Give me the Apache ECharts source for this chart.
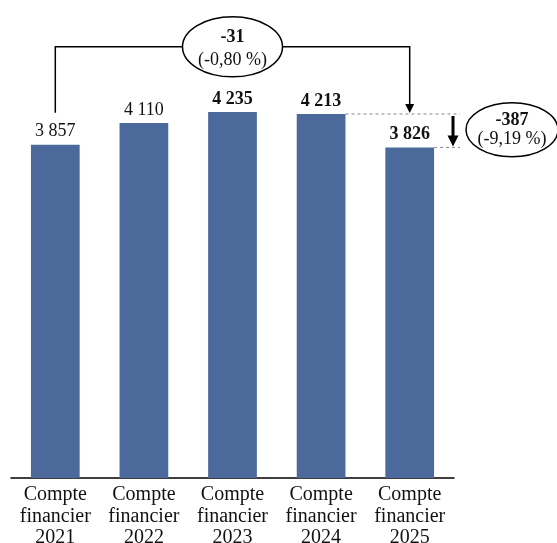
<!DOCTYPE html>
<html><head><meta charset="utf-8">
<script src="https://cdn.jsdelivr.net/npm/echarts@6/dist/echarts.min.js"></script>
<style>html,body{margin:0;padding:0;background:#fff}#c{width:557px;height:543px}</style>
</head><body><div id="c"></div>
<script>
const categories = ['Compte\nfinancier\n2021','Compte\nfinancier\n2022','Compte\nfinancier\n2023','Compte\nfinancier\n2024','Compte\nfinancier\n2025'];
const values = [3857, 4110, 4235, 4213, 3826];
const valueLabels = ['3 857','4 110','4 235','4 213','3 826'];
const boldLabel = [false, false, true, true, true];
const totalDiff = ['-31', '(-0,80 %)'];
const lastDiff = ['-387', '(-9,19 %)'];

const FONT = '"Liberation Serif", "DejaVu Serif", serif';
const chart = echarts.init(document.getElementById('c'));
chart.setOption({
  animation: false,
  grid: {left: 11, right: 103, top: 46, bottom: 65, outerBoundsMode: 'none', containLabel: false},
  xAxis: {
    type: 'category', data: categories,
    axisLine: {lineStyle: {color: '#000', width: 1.5}},
    axisTick: {show: false},
    axisLabel: {color: '#111', fontFamily: FONT, fontSize: 20, lineHeight: 21.5, margin: 6, interval: 0}
  },
  yAxis: {type: 'value', min: 0, max: 5000, show: false, splitLine: {show: false}},
  series: [{
    type: 'bar', barWidth: '55%',
    itemStyle: {color: '#4B6A9B'},
    data: values.map((v, i) => ({
      value: v,
      label: {show: true, position: 'top', distance: 4, formatter: valueLabels[i],
        fontFamily: FONT, fontSize: 18, color: '#111', fontWeight: boldLabel[i] ? 'bold' : 'normal'}
    }))
  }]
});

function px(i, v) { return chart.convertToPixel({seriesIndex: 0}, [i, v]); }
const p0 = px(0, values[0]);
const p3 = px(3, values[3]);
const p4 = px(4, values[4]);
const pTop = px(0, 4990);
const bw = px(1, 0)[0] - px(0, 0)[0];
const half = bw * 0.55 / 2;
const lineY = pTop[1];
const leftBottom = p0[1] - 32;
const ell1 = {cx: 232.5, cy: lineY, rx: 50, ry: 30};
const stroke = {stroke: '#000', lineWidth: 1.5, fill: null};
const xEnd = 460;
const arrowX = 453;
const ell2 = {cx: 512, cy: (p3[1] + p4[1]) / 2 - 1, rx: 46, ry: 27};

const g = [
  {type: 'polyline', shape: {points: [[p0[0], leftBottom], [p0[0], lineY], [ell1.cx - ell1.rx, lineY]]}, style: stroke},
  {type: 'polyline', shape: {points: [[ell1.cx + ell1.rx, lineY], [p4[0], lineY], [p4[0], p3[1] - 9]]}, style: stroke},
  {type: 'polygon', shape: {points: [[p4[0] - 4.5, p3[1] - 10], [p4[0] + 4.5, p3[1] - 10], [p4[0], p3[1] - 1]]}, style: {fill: '#000'}},
  {type: 'ellipse', shape: ell1, style: {stroke: '#000', lineWidth: 1.5, fill: '#fff'}},
  {type: 'text', style: {text: totalDiff[0], x: ell1.cx, y: lineY - 10, align: 'center', verticalAlign: 'middle', font: 'bold 18px ' + FONT, fill: '#111'}},
  {type: 'text', style: {text: totalDiff[1], x: ell1.cx, y: lineY + 13, align: 'center', verticalAlign: 'middle', font: '18px ' + FONT, fill: '#111'}},
  {type: 'line', shape: {x1: p3[0] + half, y1: p3[1], x2: xEnd, y2: p3[1]}, style: {stroke: '#888', lineWidth: 1, lineDash: [3, 3]}},
  {type: 'line', shape: {x1: p4[0] + half, y1: p4[1], x2: xEnd, y2: p4[1]}, style: {stroke: '#888', lineWidth: 1, lineDash: [3, 3]}},
  {type: 'line', shape: {x1: arrowX, y1: p3[1] + 2, x2: arrowX, y2: p4[1] - 10}, style: {stroke: '#000', lineWidth: 3}},
  {type: 'polygon', shape: {points: [[arrowX - 5.5, p4[1] - 12], [arrowX + 5.5, p4[1] - 12], [arrowX, p4[1] - 1]]}, style: {fill: '#000'}},
  {type: 'ellipse', shape: ell2, style: {stroke: '#000', lineWidth: 1.5, fill: '#fff'}},
  {type: 'text', style: {text: lastDiff[0], x: ell2.cx, y: ell2.cy - 9, align: 'center', verticalAlign: 'middle', font: 'bold 18px ' + FONT, fill: '#111'}},
  {type: 'text', style: {text: lastDiff[1], x: ell2.cx, y: ell2.cy + 10, align: 'center', verticalAlign: 'middle', font: '18px ' + FONT, fill: '#111'}}
];
chart.setOption({graphic: g});
</script></body></html>
